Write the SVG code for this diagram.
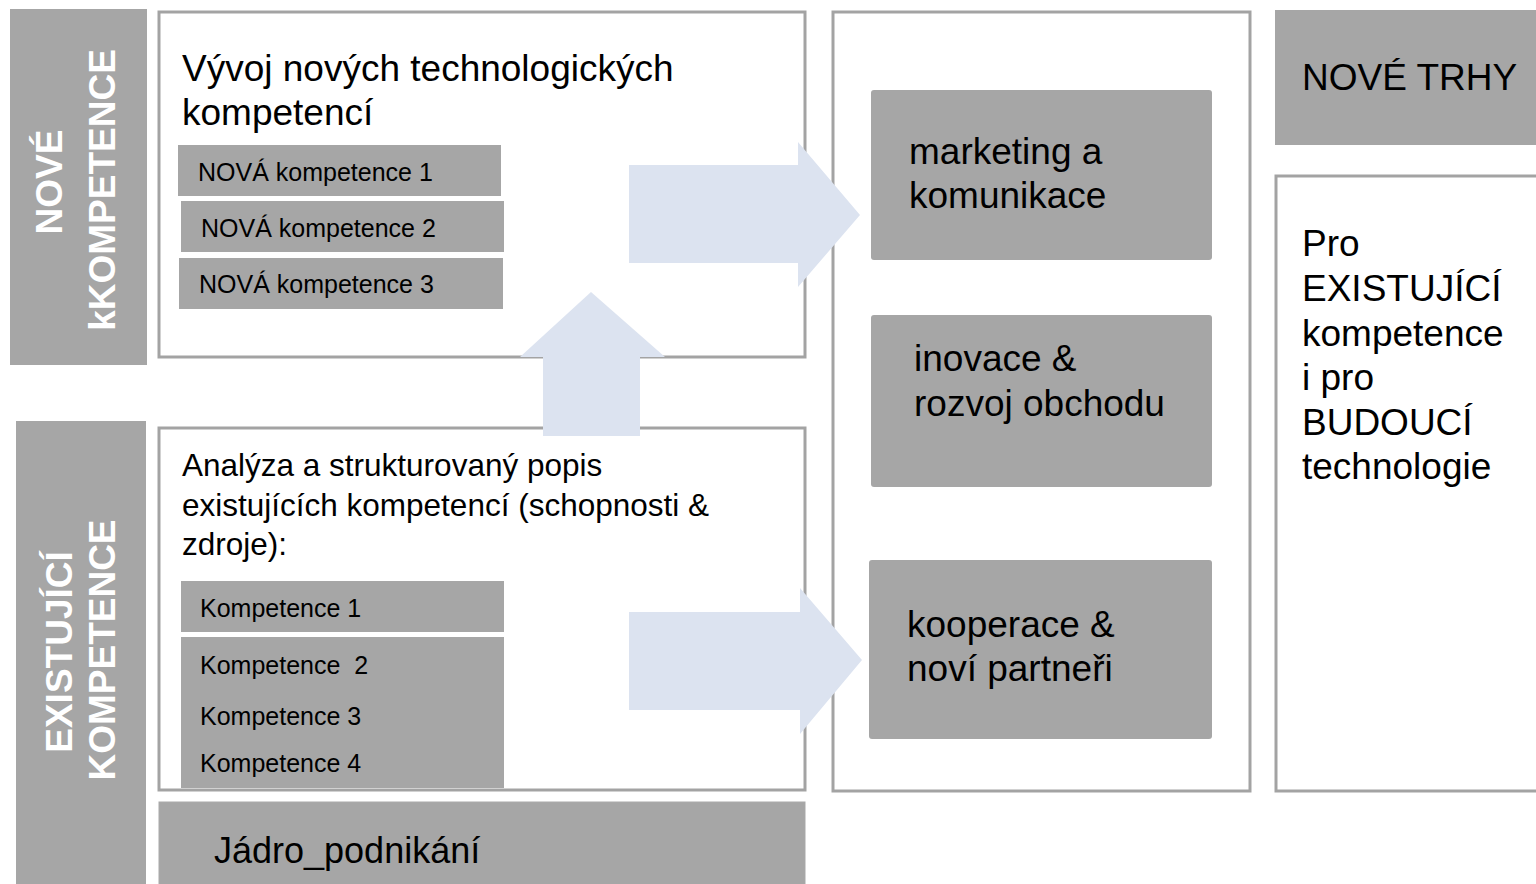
<svg xmlns="http://www.w3.org/2000/svg" width="1536" height="884" viewBox="0 0 1536 884">
<style>
.bg{fill:#ffffff}
.bar{fill:#a6a6a6}
.box{fill:#ffffff;stroke:#a3a3a3;stroke-width:3}
.gbox{fill:#a6a6a6;stroke:#a9a9a9;stroke-width:1}
.arrow{fill:#dce3f0}
.t{font-family:"Liberation Sans",Arial,sans-serif;fill:#000000}
.vt{font-family:"Liberation Sans",Arial,sans-serif;font-weight:bold;fill:#ffffff;font-size:37px;text-anchor:middle}
</style>
<rect class="bg" x="0" y="0" width="1536" height="884"/>

<g id="side-nove">
<rect class="bar" x="10" y="9" width="137" height="356"/>
<text class="vt" transform="translate(62,182) rotate(-90)">NOVÉ</text>
<text class="vt" transform="translate(115,190) rotate(-90)">kKOMPETENCE</text>
</g>

<g id="side-existujici">
<rect class="bar" x="16" y="421" width="130" height="463"/>
<text class="vt" transform="translate(72,652) rotate(-90)">EXISTUJÍCÍ</text>
<text class="vt" transform="translate(115,650) rotate(-90)">KOMPETENCE</text>
</g>

<g id="box-vyvoj">
<rect class="box" x="159" y="12" width="646" height="345"/>
<text class="t" x="182" y="81" font-size="37">Vývoj nových technologických</text>
<text class="t" x="182" y="125" font-size="37">kompetencí</text>
</g>
<g id="nova1"><rect class="bar" x="178" y="145" width="323" height="51"/><text class="t" x="198" y="181" font-size="25">NOVÁ kompetence 1</text></g>
<g id="nova2"><rect class="bar" x="181" y="201" width="323" height="51"/><text class="t" x="201" y="237" font-size="25">NOVÁ kompetence 2</text></g>
<g id="nova3"><rect class="bar" x="179" y="258" width="324" height="51"/><text class="t" x="199" y="293" font-size="25">NOVÁ kompetence 3</text></g>

<g id="box-analyza">
<rect class="box" x="159" y="428" width="646" height="362"/>
<text class="t" x="182" y="476" font-size="31.5">Analýza a strukturovaný popis</text>
<text class="t" x="182" y="516" font-size="31.5">existujících kompetencí (schopnosti &amp;</text>
<text class="t" x="182" y="555" font-size="31.5">zdroje):</text>
</g>
<g id="komp1"><rect class="bar" x="181" y="581" width="323" height="51"/><text class="t" x="200" y="617" font-size="25">Kompetence 1</text></g>
<g id="komp234">
<rect class="bar" x="181" y="637" width="323" height="151"/>
<text class="t" x="200" y="674" font-size="25">Kompetence&#160; 2</text>
<text class="t" x="200" y="725" font-size="25">Kompetence 3</text>
<text class="t" x="200" y="772" font-size="25">Kompetence 4</text>
</g>

<g id="jadro">
<rect class="gbox" x="159" y="802" width="646" height="90"/>
<text class="t" x="214" y="863" font-size="36">Jádro_podnikání</text>
</g>

<g id="box-middle">
<rect class="box" x="833" y="12" width="417" height="779"/>
</g>
<g id="marketing">
<rect class="bar" x="871" y="90" width="341" height="170" rx="3"/>
<text class="t" x="909" y="164" font-size="37">marketing a</text>
<text class="t" x="909" y="208" font-size="37">komunikace</text>
</g>
<g id="inovace">
<rect class="bar" x="871" y="315" width="341" height="172" rx="3"/>
<text class="t" x="914" y="371" font-size="37">inovace &amp;</text>
<text class="t" x="914" y="416" font-size="37">rozvoj obchodu</text>
</g>
<g id="kooperace">
<rect class="bar" x="869" y="560" width="343" height="179" rx="3"/>
<text class="t" x="907" y="637" font-size="37">kooperace &amp;</text>
<text class="t" x="907" y="681" font-size="37">noví partneři</text>
</g>

<g id="nove-trhy">
<rect class="bar" x="1275" y="10" width="270" height="135"/>
<text class="t" x="1302" y="90" font-size="37">NOVÉ TRHY</text>
</g>
<g id="box-right">
<rect class="box" x="1276" y="176" width="280" height="615"/>
<text class="t" x="1302" y="256" font-size="37">Pro</text>
<text class="t" x="1302" y="301" font-size="37">EXISTUJÍCÍ</text>
<text class="t" x="1302" y="346" font-size="37">kompetence</text>
<text class="t" x="1302" y="390" font-size="37">i pro</text>
<text class="t" x="1302" y="435" font-size="37">BUDOUCÍ</text>
<text class="t" x="1302" y="479" font-size="37">technologie</text>
</g>

<g id="connectors">
<polygon class="arrow" points="629,165 798,165 798,142 860,215 798,287 798,263 629,263"/>
<polygon class="arrow" points="543,436 543,357 520,357 591,292 665,357 640,357 640,436"/>
<polygon class="arrow" points="629,612 800,612 800,588 862,660 800,734 800,710 629,710"/>
</g>
</svg>
